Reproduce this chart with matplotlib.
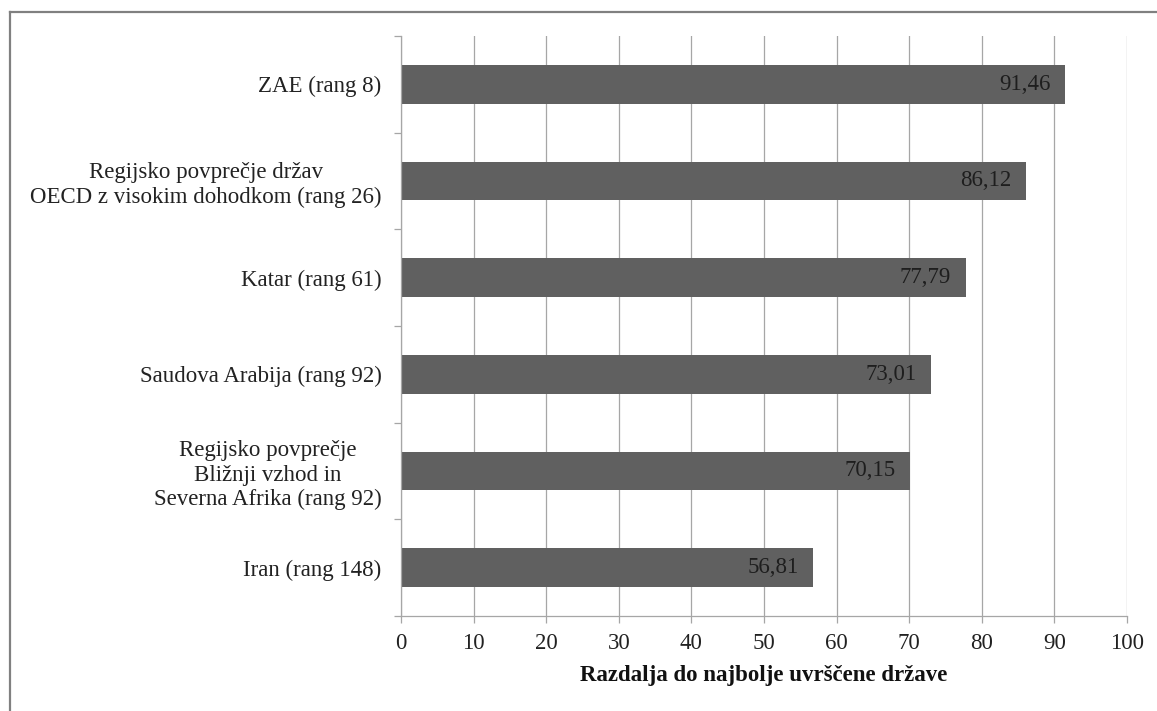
import matplotlib
matplotlib.use("Agg")
import matplotlib.pyplot as plt
from matplotlib.lines import Line2D

categories = [
    "ZAE (rang 8)",
    "Regijsko povprečje držav\nOECD z visokim dohodkom (rang 26)",
    "Katar (rang 61)",
    "Saudova Arabija (rang 92)",
    "Regijsko povprečje\nBližnji vzhod in\nSeverna Afrika (rang 92)",
    "Iran (rang 148)",
]
values = [91.46, 86.12, 77.79, 73.01, 70.15, 56.81]
value_labels = ["91,46", "86,12", "77,79", "73,01", "70,15", "56,81"]
x_ticks = [0, 10, 20, 30, 40, 50, 60, 70, 80, 90, 100]
x_label = "Razdalja do najbolje uvrščene države"

W, H = 1157, 711
FS = 16.5
plt.rcParams['font.family'] = ['Liberation Serif', 'DejaVu Serif']
fig = plt.figure(figsize=(W / 100, H / 100), dpi=100)
ax = fig.add_axes([401 / W, 1 - 616 / H, (1127 - 401) / W, (616 - 36) / H])

n = len(categories)
ypos = [n - 1 - i for i in range(n)]
grid_c = '#a6a6a6'
bar_c = '#606060'

ax.set_xlim(0, 100)
ax.set_ylim(-0.5, n - 0.5)
ax.set_xticks(x_ticks)
ax.set_xticklabels([str(t) for t in x_ticks], fontsize=FS, color='#222222')
ax.xaxis.grid(True, color=grid_c, linewidth=0.9)
ax.set_axisbelow(True)

ax.barh(ypos, values, height=0.4, color=bar_c, zorder=2)
for y, v, lab in zip(ypos, values, value_labels):
    ax.annotate(lab, xy=(v, y), xytext=(-10.5, 0), textcoords='offset points',
                ha='right', va='center', fontsize=FS, color='#1e1e1e', zorder=3)

# y ticks at boundaries, labels at centres
ax.set_yticks([i - 0.5 for i in range(n + 1)])
ax.set_yticklabels([])
ax.set_yticks(ypos, minor=True)
ax.set_yticklabels(categories, minor=True, fontsize=FS, color='#222222',
                   multialignment='center', linespacing=1.2)
ax.tick_params(axis='y', which='major', length=5, width=0.9, color=grid_c, direction='out')
ax.tick_params(axis='y', which='minor', length=0, pad=14)
ax.tick_params(axis='x', which='major', length=5, width=0.9, color=grid_c, direction='out', pad=7)

for s in ['top', 'right']:
    ax.spines[s].set_visible(False)
for s in ['left', 'bottom']:
    ax.spines[s].set_color(grid_c)
    ax.spines[s].set_linewidth(0.9)

ax.set_xlabel(x_label, fontsize=FS, fontweight='bold', color='#111111', labelpad=8)

# outer border (top and left only visible)
fig.add_artist(Line2D([9.5 / W, 9.5 / W], [0, 1 - 11.5 / H], transform=fig.transFigure,
                      color='#808080', linewidth=1.6))
fig.add_artist(Line2D([9.5 / W, 1], [1 - 11.5 / H, 1 - 11.5 / H], transform=fig.transFigure,
                      color='#808080', linewidth=1.6))

fig.savefig("out.png", dpi=100)
